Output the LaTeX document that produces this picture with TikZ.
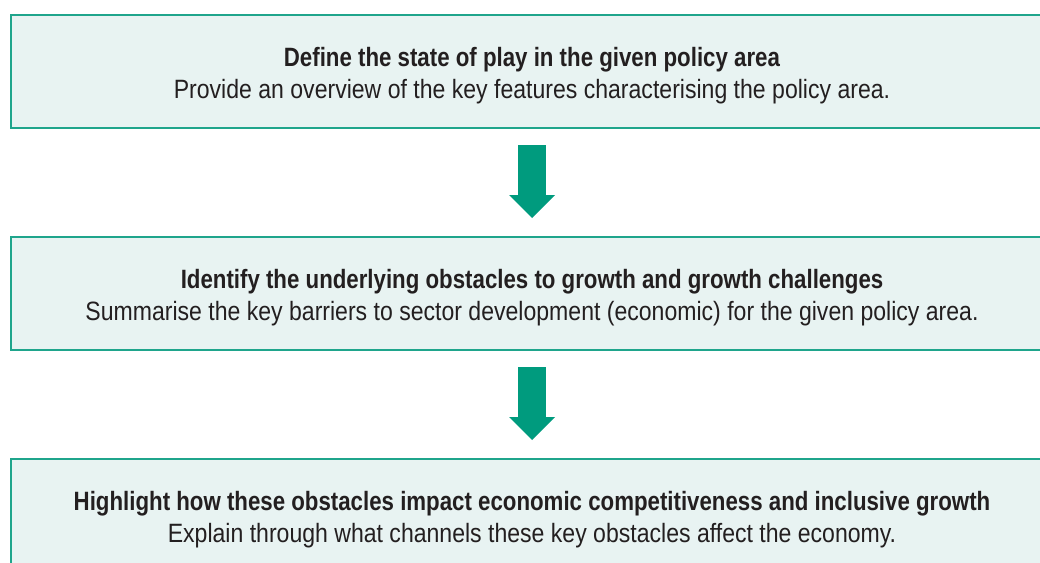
\documentclass[tikz,border=0pt]{standalone}
\usepackage{fontspec}
\setmainfont{Liberation Sans}[FakeStretch=0.87, BoldFeatures={FakeStretch=0.84}]
\usetikzlibrary{calc, positioning, arrows.meta}
\definecolor{tealLine}{HTML}{1FA58C}
\definecolor{paleTeal}{HTML}{E8F3F2}
\definecolor{arrowGreen}{HTML}{009B7E}
\definecolor{inkDark}{HTML}{231F20}
\newcommand{\topgap}{\rule{0pt}{28pt}}
\tikzset{
  box/.style = {draw=tealLine, line width=1.2pt, fill=paleTeal, align=center,
                text=inkDark, font=\fontsize{26.5}{32}\selectfont,
                minimum width=1042pt, minimum height=113pt,
                inner sep=0pt, outer sep=0pt},
  fl/.style  = {-{Triangle[width=46pt, length=23pt, line width=0pt]},
                draw=arrowGreen, line width=28pt,
                shorten <=17pt, shorten >=19pt}
}

\begin{document}
\begin{tikzpicture}[node distance=109pt]
  \path[use as bounding box, clip] (0,0) rectangle (1040pt,-562pt);
  \node[box] (s1) at (532pt,-71.5pt)
    {\topgap\textbf{Define the state of play in the given policy area}\\
     Provide an overview of the key features characterising the policy area.};
  \node[box, below=of s1] (s2)
    {\topgap\textbf{Identify the underlying obstacles to growth and growth challenges}\\
     Summarise the key barriers to sector development (economic) for the given policy area.};
  \node[box, below=of s2] (s3)
    {\topgap\textbf{Highlight how these obstacles impact economic competitiveness and inclusive growth}\\
     Explain through what channels these key obstacles affect the economy.};
  \foreach \a/\b in {s1/s2, s2/s3} \draw[fl] (\a) -- (\b);
\end{tikzpicture}
\end{document}
